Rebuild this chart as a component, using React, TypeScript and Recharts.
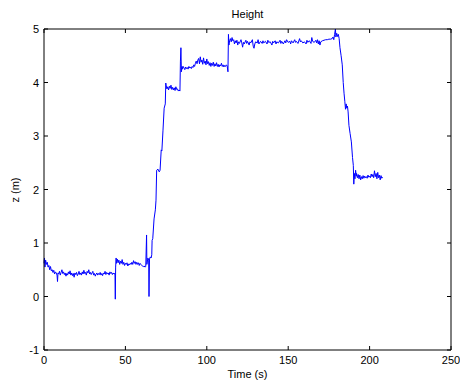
import { LineChart, Line, XAxis, YAxis } from "recharts"

// [time (s), z (m)], phase by phase
const startLevel: [number, number][] = [
  [0, 0.62], [0.3, 0.72], [0.6, 0.55], [1, 0.68], [1.5, 0.6], [2, 0.64], [2.5, 0.55], [3, 0.58],
  [3.5, 0.5], [4, 0.56], [4.5, 0.48], [5, 0.5], [5.5, 0.45], [6, 0.49], [6.5, 0.42], [7, 0.46],
  [7.5, 0.44], [8, 0.4], [8.3, 0.28], [8.6, 0.44], [9, 0.42], [9.5, 0.47], [10, 0.4], [10.5, 0.45],
  [11, 0.5], [11.5, 0.43], [12, 0.46], [12.5, 0.41], [13, 0.44], [13.5, 0.38], [14, 0.43], [14.5, 0.4],
  [15, 0.46], [15.5, 0.42], [16, 0.48], [16.5, 0.4], [17, 0.44], [17.5, 0.39], [18, 0.43], [18.5, 0.36],
  [19, 0.44], [19.5, 0.41], [20, 0.45], [20.5, 0.39], [21, 0.42], [21.5, 0.47], [22, 0.41], [22.5, 0.44],
  [23, 0.4], [23.5, 0.46], [24, 0.42], [24.5, 0.49], [25, 0.43], [25.5, 0.45], [26, 0.4], [26.5, 0.47],
  [27, 0.44], [27.5, 0.5], [28, 0.42], [28.5, 0.45], [29, 0.41], [29.5, 0.44], [30, 0.47], [30.5, 0.4],
  [31, 0.43], [31.5, 0.38], [32, 0.42], [32.5, 0.44], [33, 0.4], [33.5, 0.43], [34, 0.41], [34.5, 0.45],
  [35, 0.4], [35.5, 0.43], [36, 0.39], [36.5, 0.44], [37, 0.42], [37.5, 0.47], [38, 0.41], [38.5, 0.45],
  [39, 0.42], [39.5, 0.44], [40, 0.4], [40.5, 0.46], [41, 0.43], [41.5, 0.45], [42, 0.41], [42.5, 0.44],
  [43, 0.42], [43.6, 0.43], [43.8, -0.05], [44, 0.55], [44.3, 0.72],
]

const secondLevel: [number, number][] = [
  [44.5, 0.62], [45, 0.7], [45.5, 0.63], [46, 0.68], [46.5, 0.6], [47, 0.66], [47.5, 0.62], [48, 0.69],
  [48.5, 0.6], [49, 0.64], [49.5, 0.58], [50, 0.62], [50.5, 0.6], [51, 0.63], [51.5, 0.57], [52, 0.61],
  [52.5, 0.59], [53, 0.62], [53.5, 0.6], [54, 0.64], [54.5, 0.6], [55, 0.67], [55.5, 0.62], [56, 0.65],
  [56.5, 0.6], [57, 0.64], [57.5, 0.6], [58, 0.63], [58.5, 0.58], [59, 0.62], [59.5, 0.6], [60, 0.58],
  [60.5, 0.57], [61, 0.56], [61.5, 0.57], [62, 0.55], [62.5, 0.56], [63, 1.15], [63.2, 0.6],
  [63.8, 0.72], [64.3, 0.68], [64.5, 0.0], [64.8, 0.7], [65.3, 0.74], [65.8, 0.72], [66.2, 0.78],
]

const climb: [number, number][] = [
  [66.4, 1.05], [66.8, 1.08], [67.6, 1.45], [68.4, 1.62], [68.8, 1.8], [69.2, 2.36], [70, 2.38],
  [70.8, 2.33], [71.3, 2.36], [72, 2.74], [72.4, 2.72], [73.1, 3.11], [73.8, 3.52], [74.5, 3.6],
  [74.8, 3.99],
]

const firstFloor: [number, number][] = [
  [75, 3.95], [75.5, 3.88], [76, 3.92], [76.5, 3.86], [77, 3.93], [77.5, 3.89], [78, 3.95], [78.5, 3.87],
  [79, 3.91], [79.5, 3.86], [80, 3.9], [80.5, 3.85], [81, 3.92], [81.5, 3.87], [82, 3.88], [82.5, 3.84],
  [83, 3.86], [83.5, 3.84], [83.8, 4.4], [84.1, 4.65], [84.4, 4.2], [84.8, 4.3],
]

const secondFloor: [number, number][] = [
  [85, 4.25], [85.5, 4.3], [86, 4.27], [86.5, 4.24], [87, 4.29], [87.5, 4.26], [88, 4.28], [88.5, 4.25],
  [89, 4.3], [89.5, 4.27], [90, 4.29], [90.5, 4.26], [91, 4.3], [91.5, 4.28], [92, 4.33], [92.5, 4.3],
  [93, 4.36], [93.5, 4.4], [94, 4.35], [94.5, 4.42], [95, 4.45], [95.5, 4.35], [96, 4.48], [96.5, 4.38],
  [97, 4.42], [97.5, 4.34], [98, 4.46], [98.5, 4.36], [99, 4.4], [99.5, 4.33], [100, 4.44], [100.5, 4.35],
  [101, 4.39], [101.5, 4.32], [102, 4.37], [102.5, 4.3], [103, 4.36], [103.5, 4.32], [104, 4.38],
  [104.5, 4.3], [105, 4.35], [105.5, 4.31], [106, 4.37], [106.5, 4.3], [107, 4.34], [107.5, 4.29],
  [108, 4.33], [108.5, 4.31], [109, 4.36], [109.5, 4.3], [110, 4.33], [110.5, 4.29], [111, 4.32],
  [111.5, 4.3], [112, 4.33], [112.5, 4.31], [113, 4.2], [113.3, 4.9], [113.6, 4.7], [114, 4.78],
]

const topFloor: [number, number][] = [
  [114.5, 4.82], [115, 4.76], [115.5, 4.84], [116, 4.78], [116.5, 4.8], [117, 4.72], [117.5, 4.78],
  [118, 4.74], [118.5, 4.79], [119, 4.7], [119.5, 4.76], [120, 4.73], [121, 4.8], [121.5, 4.74],
  [122, 4.66], [122.5, 4.75], [123, 4.72], [124, 4.79], [124.5, 4.73], [125, 4.77], [126, 4.7],
  [126.5, 4.76], [127, 4.74], [128, 4.8], [128.5, 4.68], [129, 4.64], [129.5, 4.72], [130, 4.76],
  [131, 4.74], [131.5, 4.8], [132, 4.72], [133, 4.77], [134, 4.73], [134.5, 4.78], [135, 4.74],
  [136, 4.77], [137, 4.72], [137.5, 4.79], [138, 4.75], [139, 4.76], [140, 4.7], [140.5, 4.77],
  [141, 4.74], [142, 4.78], [142.5, 4.72], [143, 4.76], [144, 4.74], [145, 4.79], [145.5, 4.73],
  [146, 4.77], [147, 4.72], [148, 4.78], [148.5, 4.74], [149, 4.8], [150, 4.75], [151, 4.77],
  [151.5, 4.72], [152, 4.78], [153, 4.74], [154, 4.8], [154.5, 4.75], [155, 4.77], [156, 4.73],
  [157, 4.82], [157.5, 4.76], [158, 4.78], [159, 4.74], [160, 4.76], [161, 4.72], [161.5, 4.79],
  [162, 4.75], [163, 4.78], [164, 4.73], [164.5, 4.84], [165, 4.77], [166, 4.75], [167, 4.79],
  [167.5, 4.74], [168, 4.8], [168.5, 4.72], [169, 4.78], [169.5, 4.7], [170, 4.76], [171, 4.78],
  [172, 4.79], [173, 4.8], [174, 4.8], [175, 4.81], [176, 4.81], [177, 4.82], [177.5, 4.85],
  [178, 4.8], [178.5, 4.9], [179, 5.0], [179.3, 4.85], [179.8, 4.92], [180.3, 4.86], [180.8, 4.9],
  [181.3, 4.82],
]

const descent: [number, number][] = [
  [181.8, 4.65], [182.5, 4.5], [183.2, 4.33], [183.8, 4.0], [184.3, 3.8], [184.8, 3.64], [185.2, 3.5],
  [185.6, 3.6], [186, 3.52], [186.4, 3.56], [186.8, 3.45], [187.3, 3.2], [188, 3.05], [188.8, 2.89],
  [189.5, 2.6], [190, 2.45], [190.3, 2.1], [190.6, 2.3], [191, 2.2], [191.4, 2.36], [191.8, 2.25],
]

const endLevel: [number, number][] = [
  [192, 2.3], [192.5, 2.22], [193, 2.28], [193.5, 2.2], [194, 2.27], [194.5, 2.18], [195, 2.24],
  [195.5, 2.2], [196, 2.26], [196.5, 2.21], [197, 2.25], [197.5, 2.22], [198, 2.24], [198.5, 2.21],
  [199, 2.27], [199.5, 2.23], [200, 2.25], [200.5, 2.22], [201, 2.29], [201.5, 2.24], [202, 2.28],
  [202.5, 2.22], [203, 2.35], [203.5, 2.24], [204, 2.3], [204.5, 2.2], [205, 2.32], [205.5, 2.22],
  [206, 2.27], [206.5, 2.18], [207, 2.26], [207.5, 2.21], [208, 2.23],
]

const xTicks = [0, 50, 100, 150, 200, 250]
const yTicks = [-1, 0, 1, 2, 3, 4, 5]

const data = [
  ...startLevel, ...secondLevel, ...climb, ...firstFloor,
  ...secondFloor, ...topFloor, ...descent, ...endLevel,
].map(([t, z]) => ({ t, z }))

const font = "'Liberation Sans', Arial, sans-serif"
const TICK = 4

// MATLAB-style ticks point into the plot box
function BottomTick({ x, y, payload }: any) {
  return (
    <g>
      <line x1={x} y1={y} x2={x} y2={y - TICK} stroke="#000" />
      <text x={x} y={y + 14} textAnchor="middle" fontSize={11} fontFamily={font} fill="#000">
        {payload.value}
      </text>
    </g>
  )
}

function LeftTick({ x, y, payload }: any) {
  return (
    <g>
      <line x1={x} y1={y} x2={x + TICK} y2={y} stroke="#000" />
      <text x={x - 5} y={y + 4} textAnchor="end" fontSize={11} fontFamily={font} fill="#000">
        {payload.value}
      </text>
    </g>
  )
}

function TopTick({ x, y }: any) {
  return <line x1={x} y1={y} x2={x} y2={y + TICK} stroke="#000" />
}

function RightTick({ x, y }: any) {
  return <line x1={x} y1={y} x2={x - TICK} y2={y} stroke="#000" />
}

export default function App() {
  return (
    <div style={{ position: "absolute", left: 0, top: 0, width: 460, height: 385, background: "#fff", fontFamily: font }}>
      <LineChart width={460} height={385} data={data} margin={{ top: 28, right: 8, bottom: 0, left: 0 }}>
        <XAxis
          dataKey="t" type="number" domain={[0, 250]} ticks={xTicks} height={35} interval={0}
          stroke="#000" tick={<BottomTick />} tickLine={false} tickSize={0} tickMargin={0}
        />
        <XAxis
          xAxisId="top" orientation="top" dataKey="t" type="number" domain={[0, 250]} ticks={xTicks}
          height={1} interval={0} stroke="#000" tick={<TopTick />} tickLine={false} tickSize={0} tickMargin={0}
        />
        <YAxis
          dataKey="z" type="number" domain={[-1, 5]} ticks={yTicks} width={44} interval={0}
          stroke="#000" tick={<LeftTick />} tickLine={false} tickSize={0} tickMargin={0}
        />
        <YAxis
          yAxisId="right" orientation="right" dataKey="z" type="number" domain={[-1, 5]} ticks={yTicks}
          width={1} interval={0} stroke="#000" tick={<RightTick />} tickLine={false} tickSize={0} tickMargin={0}
        />
        <Line type="linear" dataKey="z" stroke="#0000ff" strokeWidth={1} dot={false} isAnimationActive={false} />
      </LineChart>
      <div style={{ position: "absolute", left: 0, width: 495, top: 8, textAlign: "center", fontSize: 11 }}>Height</div>
      <div style={{ position: "absolute", left: 0, width: 495, top: 368, textAlign: "center", fontSize: 11 }}>Time (s)</div>
      <div
        style={{
          position: "absolute", left: 15, top: 190, fontSize: 11, whiteSpace: "nowrap",
          transform: "translate(-50%, -50%) rotate(-90deg)",
        }}
      >
        z (m)
      </div>
    </div>
  )
}
